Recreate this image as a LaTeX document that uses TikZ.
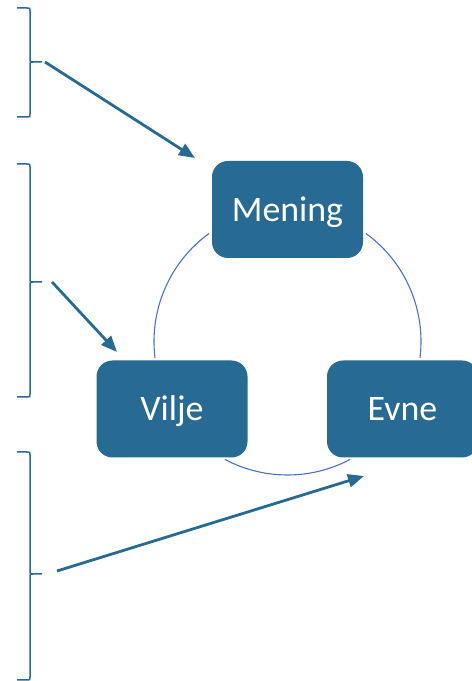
\documentclass[tikz,border=0pt]{standalone}
\usepackage{fontspec}
\setmainfont{Carlito}
\usetikzlibrary{arrows.meta,calc}
\definecolor{boxblue}{HTML}{276A93}
\definecolor{ringblue}{HTML}{4A72C6}
\tikzset{
  stepbox/.style={draw=none, fill=boxblue, rounded corners=16bp, minimum width=151bp, minimum height=97bp,
    inner sep=0pt, text=white, font=\fontsize{36}{40}\selectfont, text height=24bp, text depth=0pt},
  ring/.style={draw=ringblue, line width=1.1bp},
  bracepath/.style={draw=boxblue, line width=1.5bp},
  pointer/.style={draw=boxblue, line width=2.8bp, -{Triangle[length=16bp,width=13bp]}},
}
\begin{document}
\begin{tikzpicture}[x=1bp,y=1bp]
\useasboundingbox (0,0) rectangle (472,681);
\coordinate (c) at (287.5,339.5);
% ring arcs
\draw[ring] ($(c)+(126:133.5)$) arc[start angle=126, end angle=187, radius=133.5];
\draw[ring] ($(c)+(-7:133.5)$) arc[start angle=-7, end angle=54, radius=133.5];
\draw[ring] ($(c)+(242:133.5)$) arc[start angle=242, end angle=298, radius=133.5];
% boxes
\node[stepbox] (mening) at (287.5,471.5) {Mening};
\node[stepbox] (vilje) at (172,272) {Vilje};
\node[stepbox] (evne) at (402.5,272) {Evne};
% braces
\foreach \T/\M/\B in {673/619/564, 517/399/284, 229/107/1}{
  \draw[bracepath] (17,\T) -- (27,\T) .. controls (30,\T) .. (30,\T-3) -- (30,\M+3) .. controls (30,\M) .. (33,\M) -- (42,\M);
  \draw[bracepath] (33,\M) .. controls (30,\M) .. (30,\M-3) -- (30,\B+3) .. controls (30,\B) .. (27,\B) -- (17,\B);
}
% arrow ends
\coordinate (s1) at (45,619);
\coordinate (t1) at (195,523);
\coordinate (s2) at (52,399);
\coordinate (t2) at (117,329);
\coordinate (s3) at (57,110);
\coordinate (t3) at (364,205);
\draw[pointer] (s1) -- (t1);
\draw[pointer] (s2) -- (t2);
\draw[pointer] (s3) -- (t3);
\end{tikzpicture}
\end{document}
